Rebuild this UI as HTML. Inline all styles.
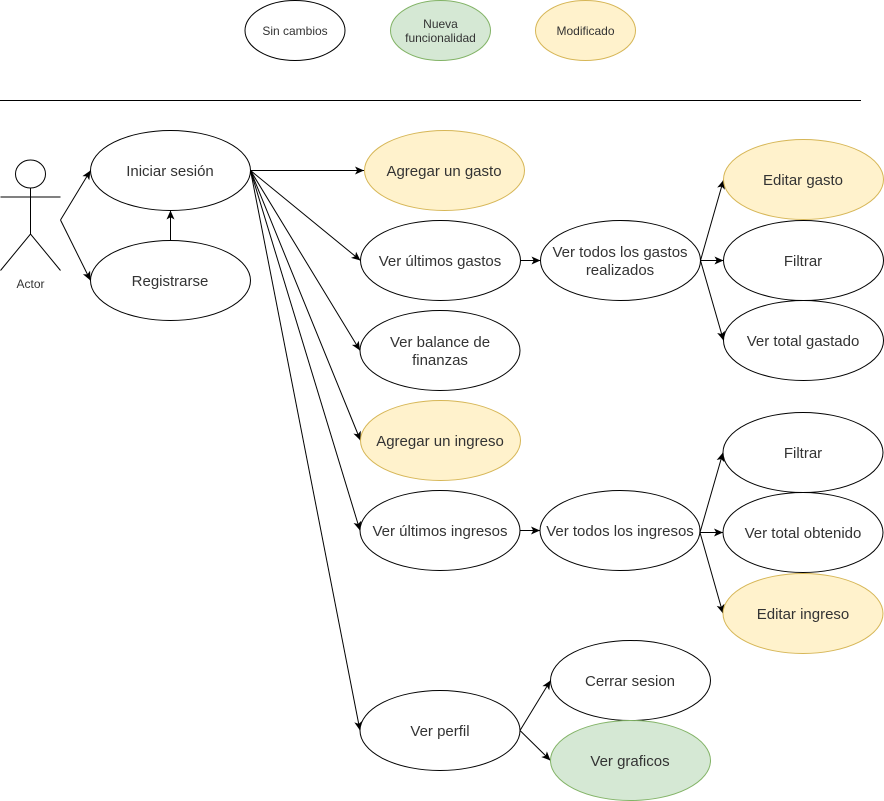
<!DOCTYPE html>
<html><head><meta charset="utf-8"><style>
html,body{margin:0;padding:0;background:#fff}
svg{display:block}
text{font-family:"Liberation Sans",sans-serif;font-size:15px;fill:#333;text-anchor:middle}
.s{font-size:12px}
ellipse{fill:#fff;stroke:#000;stroke-width:1}
.y{fill:#fff2cc;stroke:#d6b656}
.g{fill:#d5e8d4;stroke:#82b366}
.l{fill:none;stroke:#000;stroke-width:1}
.a{fill:none;stroke:#000;stroke-width:1;marker-end:url(#m)}
</style></head><body>
<svg width="884" height="801" viewBox="0 0 884 801" xmlns="http://www.w3.org/2000/svg">
<defs><marker id="m" markerUnits="userSpaceOnUse" markerWidth="12" markerHeight="12" refX="10" refY="6" orient="auto"><path d="M1,2 L10,6 L1,10 L3.2,6Z" fill="#000"/></marker></defs>
<ellipse cx="295" cy="30.5" rx="50" ry="30"/>
<ellipse class="g" cx="440.5" cy="30.5" rx="50" ry="30"/>
<ellipse class="y" cx="585.5" cy="30.5" rx="50" ry="30"/>
<text class="s" x="295" y="35">Sin cambios</text>
<text class="s" x="440.5" y="28">Nueva</text>
<text class="s" x="440.5" y="42">funcionalidad</text>
<text class="s" x="585.5" y="35">Modificado</text>
<path class="l" d="M0,100.5H861"/>
<ellipse class="l" cx="30.5" cy="174" rx="15" ry="14"/>
<path class="l" d="M30.5,188V234M0.5,197H60.5M0.5,270.5L30.5,234L60.5,270.5"/>
<text class="s" x="30.5" y="288">Actor</text>
<path class="a" d="M60.5,220L90.5,170.5"/>
<path class="a" d="M60.5,220L90.5,280.5"/>
<path class="a" d="M170.5,240.5V210.5"/>
<path class="a" d="M250.5,170.5H364"/>
<path class="a" d="M250.5,170.5L360.5,260.5"/>
<path class="a" d="M250.5,170.5L360,350.5"/>
<path class="a" d="M250.5,170.5L360.5,440.5"/>
<path class="a" d="M250.5,170.5L360,530.5"/>
<path class="a" d="M250.5,170.5L360,730.5"/>
<path class="a" d="M520.5,260.5H540.5"/>
<path class="a" d="M700.5,260.5L723.5,180"/>
<path class="a" d="M700.5,260.5H723.5"/>
<path class="a" d="M700.5,260.5L723.5,340.5"/>
<path class="a" d="M520,530.5H540"/>
<path class="a" d="M700,532.5L723,452.5"/>
<path class="a" d="M700,532.5H723"/>
<path class="a" d="M700,532.5L723,613.5"/>
<path class="a" d="M520,730.5L550.5,680.5"/>
<path class="a" d="M520,730.5L550.5,760.5"/>
<ellipse cx="170.5" cy="170.5" rx="80" ry="40"/>
<ellipse cx="170.5" cy="280.5" rx="80" ry="40"/>
<ellipse class="y" cx="444.5" cy="170.5" rx="80" ry="40"/>
<ellipse cx="440.5" cy="260.5" rx="80" ry="40"/>
<ellipse cx="620.5" cy="260.5" rx="80" ry="40"/>
<ellipse cx="440" cy="350.5" rx="80" ry="40"/>
<ellipse class="y" cx="440.5" cy="440.5" rx="80" ry="40"/>
<ellipse cx="440" cy="530.5" rx="80" ry="40"/>
<ellipse cx="620" cy="530.5" rx="80" ry="40"/>
<ellipse cx="440" cy="730.5" rx="80" ry="40"/>
<ellipse class="y" cx="803.5" cy="179.5" rx="80" ry="40"/>
<ellipse cx="803.5" cy="260.5" rx="80" ry="40"/>
<ellipse cx="803.5" cy="340.5" rx="80" ry="40"/>
<ellipse cx="803" cy="452.5" rx="80" ry="40"/>
<ellipse cx="803" cy="532.5" rx="80" ry="40"/>
<ellipse class="y" cx="803" cy="613.5" rx="80" ry="40"/>
<ellipse cx="630.5" cy="680.5" rx="80" ry="40"/>
<ellipse class="g" cx="630.5" cy="760.5" rx="80" ry="40"/>
<text x="170" y="176">Iniciar sesión</text>
<text x="170" y="286">Registrarse</text>
<text x="444" y="176">Agregar un gasto</text>
<text x="440" y="266">Ver últimos gastos</text>
<text x="620" y="257">Ver todos los gastos</text>
<text x="620" y="275">realizados</text>
<text x="440" y="347">Ver balance de</text>
<text x="440" y="365">finanzas</text>
<text x="440" y="446">Agregar un ingreso</text>
<text x="440" y="536">Ver últimos ingresos</text>
<text x="620" y="536">Ver todos los ingresos</text>
<text x="440" y="736">Ver perfil</text>
<text x="803" y="185">Editar gasto</text>
<text x="803" y="266">Filtrar</text>
<text x="803" y="346">Ver total gastado</text>
<text x="803" y="458">Filtrar</text>
<text x="803" y="538">Ver total obtenido</text>
<text x="803" y="619">Editar ingreso</text>
<text x="630" y="686">Cerrar sesion</text>
<text x="630" y="766">Ver graficos</text>
</svg>
</body></html>
